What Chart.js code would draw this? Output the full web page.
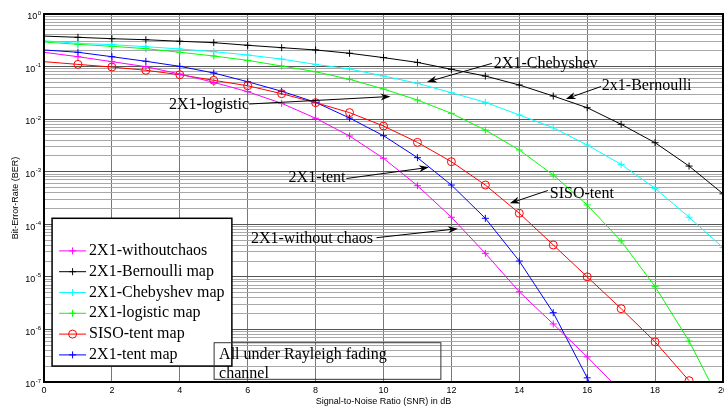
<!DOCTYPE html>
<html><head><meta charset="utf-8">
<script src="https://cdn.jsdelivr.net/npm/chart.js@4/dist/chart.umd.min.js"></script>
<style>html,body{margin:0;padding:0;background:#fff;}#wrap{position:relative;width:724px;height:410px;}</style>
</head><body><div id="wrap"><canvas id="c" width="724" height="410"></canvas></div>
<script>
// ---- data ----
const snr = [0,1,2,3,4,5,6,7,8,9,10,11,12,13,14,15,16,17,18,19,20];
const withoutChaos = [0.187,0.154,0.124,0.0995,0.0722,0.0501,0.0333,0.0200,0.0104,0.00478,0.0018,5.42e-4,1.36e-4,2.8e-5,5.2e-6,1.27e-6,3.0e-7,6.6e-8,null,null,null];
const bernoulli = [0.38,0.36,0.339,0.324,0.303,0.285,0.254,0.229,0.207,0.179,0.148,0.12,0.0887,0.066,0.0446,0.0275,0.0165,0.00797,0.00356,0.00128,3.8e-4];
const chebyshev = [0.310,0.277,0.261,0.239,0.216,0.192,0.166,0.139,0.110,0.090,0.0662,0.048,0.0318,0.0209,0.012,0.00687,0.00322,0.00138,4.83e-4,1.36e-4,3.6e-5];
const logistic = [0.293,0.265,0.243,0.219,0.187,0.159,0.131,0.1025,0.0798,0.0572,0.0374,0.0231,0.0129,0.0062,0.00259,8.65e-4,2.33e-4,4.8e-5,6.5e-6,6.0e-7,3.3e-8];
const sisoTent = [0.124,0.110,0.098,0.085,0.070,0.0547,0.0432,0.0305,0.0206,0.0133,0.0074,0.00362,0.00155,5.58e-4,1.62e-4,4.04e-5,1.0e-5,2.48e-6,5.8e-7,1.06e-7,null];
const tent = [0.207,0.187,0.154,0.126,0.101,0.0755,0.0515,0.0339,0.0209,0.0105,0.00484,0.00185,5.58e-4,1.3e-4,2.0e-5,2.08e-6,1.2e-7,7e-9,null,null,null];
const seriesLabels = ['2X1-withoutchaos','2X1-Bernoulli map','2X1-Chebyshev map','2X1-logistic map','SISO-tent map','2X1-tent map'];
const xTickValues = [0,2,4,6,8,10,12,14,16,18,20];
const yTickExponents = [0,-1,-2,-3,-4,-5,-6,-7];
const xTitle = 'Signal-to-Noise Ratio (SNR) in dB';
const yTitle = 'Bit-Error-Rate (BER)';
const noteTexts = ['2X1-Chebyshev','2x1-Bernoulli','2X1-logistic','2X1-tent','SISO-tent','2X1-without chaos'];
const boxLines = ['All under Rayleigh fading','channel'];

// ---- styles / placement ----
const seriesValues = [withoutChaos, bernoulli, chebyshev, logistic, sisoTent, tent];
const seriesColors = ['#ff00ff','#000000','#00ffff','#00ff00','#ff0000','#0000ff'];
const seriesMarkers = ['cross','cross','cross','cross','circle','cross'];
const notePlacement = [
  {tx:13.25, ty:0.1154, from:[13.19,0.1148], to:[11.28,0.0509]},
  {tx:16.43, ty:0.0427, from:[16.41,0.0418], to:[15.37,0.0242]},
  {tx:3.683, ty:0.01915, from:[6.045,0.0194], to:[10.207,0.0270]},
  {tx:7.204, ty:7.5e-4, from:[8.908,7.43e-4], to:[11.337,1.21e-3]},
  {tx:14.9, ty:3.88e-4, from:[14.84,4.39e-4], to:[13.72,2.51e-4]},
  {tx:6.094, ty:5.41e-5, from:[9.793,5.56e-5], to:[12.193,8.24e-5]}
];
const boxPlacement = {x0:5.011, y0:5.59e-7, x1:11.69, y1:1.125e-7};
const legendPlacement = {x0:0.238, y0:1.30e-4, x1:5.534, y1:2.01e-7};
const SERIF = '16px "Liberation Serif", "Times New Roman", serif';
const SANS = '"Liberation Sans", Arial, sans-serif';

const datasets = seriesLabels.map((lab, k) => ({
  label: lab,
  data: snr.map((x, i) => ({x: x, y: seriesValues[k][i]})),
  borderColor: seriesColors[k],
  backgroundColor: 'rgba(0,0,0,0)',
  borderWidth: 1,
  tension: 0,
  spanGaps: false,
  clip: {left: 0, top: 0, right: 0, bottom: 1},
  pointStyle: seriesMarkers[k],
  pointRadius: snr.map(x => x === 0 ? 0 : (seriesMarkers[k] === 'circle' ? 4 : 3.5)),
  pointHoverRadius: 0,
  pointBorderColor: seriesColors[k],
  pointBackgroundColor: 'rgba(0,0,0,0)',
  pointBorderWidth: 1
}));

function isDecade(v){ const l = Math.log10(v); return Math.abs(l - Math.round(l)) < 1e-9; }

function drawMarker(ctx, style, x, y, color){
  ctx.save(); ctx.strokeStyle = color; ctx.lineWidth = 1; ctx.beginPath();
  if (style === 'circle') { ctx.arc(x, y, 4, 0, Math.PI*2); }
  else { ctx.moveTo(x-3.5, y); ctx.lineTo(x+3.5, y); ctx.moveTo(x, y-3.5); ctx.lineTo(x, y+3.5); }
  ctx.stroke(); ctx.restore();
}
function drawArrow(ctx, x1, y1, x2, y2){
  ctx.save(); ctx.strokeStyle = '#000'; ctx.fillStyle = '#000'; ctx.lineWidth = 1;
  const a = Math.atan2(y2-y1, x2-x1), L = 10, W = 3.5;
  const bx = x2 - L*Math.cos(a), by = y2 - L*Math.sin(a);
  ctx.beginPath(); ctx.moveTo(x1, y1); ctx.lineTo(x2 - 0.7*L*Math.cos(a), y2 - 0.7*L*Math.sin(a)); ctx.stroke();
  ctx.beginPath();
  ctx.moveTo(x2, y2);
  ctx.lineTo(bx + W*Math.sin(a), by - W*Math.cos(a));
  ctx.lineTo(x2 - 0.7*L*Math.cos(a), y2 - 0.7*L*Math.sin(a));
  ctx.lineTo(bx - W*Math.sin(a), by + W*Math.cos(a));
  ctx.closePath(); ctx.fill();
  ctx.restore();
}

const overlay = {
  id: 'overlay',
  afterDraw(chart){
    const ctx = chart.ctx, xs = chart.scales.x, ys = chart.scales.y, ca = chart.chartArea;
    const px = v => xs.getPixelForValue(v), py = v => ys.getPixelForValue(v);
    // axes box
    ctx.save(); ctx.strokeStyle = '#000'; ctx.lineWidth = 2;
    ctx.strokeRect(ca.left, ca.top, ca.right - ca.left, ca.bottom - ca.top);
    ctx.restore();
    // x tick labels
    ctx.save(); ctx.fillStyle = '#000'; ctx.font = '9px ' + SANS; ctx.textAlign = 'center'; ctx.textBaseline = 'middle';
    xTickValues.forEach(v => ctx.fillText(String(v), px(v), ca.bottom + 9));
    ctx.restore();
    // y tick labels 10^e
    ctx.save(); ctx.fillStyle = '#000'; ctx.textAlign = 'right'; ctx.textBaseline = 'alphabetic';
    yTickExponents.forEach(e => {
      const y = py(Math.pow(10, e));
      const es = String(e);
      ctx.font = '6px ' + SANS; const ew = ctx.measureText(es).width;
      ctx.fillText(es, 41, y + 0.5);
      ctx.font = '9px ' + SANS;
      ctx.fillText('10', 41 - ew - 0.3, y + 5.3);
    });
    ctx.restore();
    // annotations
    ctx.save(); ctx.fillStyle = '#000'; ctx.font = SERIF; ctx.textAlign = 'left'; ctx.textBaseline = 'middle';
    noteTexts.forEach((t, i) => {
      const p = notePlacement[i];
      ctx.fillText(t, px(p.tx), py(p.ty));
      drawArrow(ctx, px(p.from[0]), py(p.from[1]), px(p.to[0]), py(p.to[1]));
    });
    ctx.restore();
    // legend
    ctx.save();
    const lx0 = px(legendPlacement.x0), ly0 = py(legendPlacement.y0), lx1 = px(legendPlacement.x1), ly1 = py(legendPlacement.y1);
    ctx.fillStyle = '#fff'; ctx.fillRect(lx0, ly0, lx1 - lx0, ly1 - ly0);
    ctx.strokeStyle = '#000'; ctx.lineWidth = 1.5; ctx.strokeRect(lx0, ly0, lx1 - lx0, ly1 - ly0);
    ctx.font = SERIF; ctx.textAlign = 'left'; ctx.textBaseline = 'middle';
    seriesLabels.forEach((lab, k) => {
      const y = ly0 + 32.6 + k * 20.8;
      ctx.strokeStyle = seriesColors[k]; ctx.lineWidth = 1;
      ctx.beginPath(); ctx.moveTo(lx0 + 7, y); ctx.lineTo(lx0 + 34, y); ctx.stroke();
      drawMarker(ctx, seriesMarkers[k], lx0 + 20.5, y, seriesColors[k]);
      ctx.fillStyle = '#000'; ctx.fillText(lab, lx0 + 37, y);
    });
    ctx.restore();
    // Rayleigh box (transparent, drawn over the legend edge)
    ctx.save();
    const bx0 = px(boxPlacement.x0), by0 = py(boxPlacement.y0), bx1 = px(boxPlacement.x1), by1 = py(boxPlacement.y1);
    ctx.strokeStyle = '#333'; ctx.lineWidth = 1; ctx.strokeRect(bx0, by0, bx1 - bx0, by1 - by0);
    ctx.fillStyle = '#000'; ctx.font = SERIF; ctx.textAlign = 'left'; ctx.textBaseline = 'middle';
    ctx.fillText(boxLines[0], bx0 + 5, by0 + 12.5);
    ctx.fillText(boxLines[1], bx0 + 5, by0 + 31);
    ctx.restore();
  }
};

new Chart(document.getElementById('c'), {
  type: 'line',
  data: {datasets: datasets},
  options: {
    responsive: false, animation: false, devicePixelRatio: 1,
    layout: {autoPadding: false, padding: {top: 14, right: 1, bottom: 0, left: 0}},
    plugins: {legend: {display: false}, tooltip: {enabled: false}},
    events: [],
    scales: {
      x: {
        type: 'linear', min: 0, max: 20,
        afterBuildTicks(s){ s.ticks = xTickValues.map(v => ({value: v})); },
        ticks: {display: false},
        grid: {color: '#777', lineWidth: 1, drawTicks: false},
        border: {display: false},
        title: {display: true, text: xTitle, color: '#000', font: {family: SANS, size: 9}, padding: {top: 0, bottom: 3}},
        afterFit(s){ s.height = 28; s.paddingLeft = 0; s.paddingRight = 0; }
      },
      y: {
        type: 'logarithmic', min: 1e-7, max: 1,
        afterBuildTicks(s){
          const t = [];
          for (let e = -7; e < 0; e++) for (let m = 1; m < 10; m++) t.push({value: m * Math.pow(10, e)});
          t.push({value: 1}); s.ticks = t;
        },
        ticks: {display: false},
        grid: {color: c => (c.tick && isDecade(c.tick.value)) ? '#555' : '#a8a8a8', lineWidth: 1, drawTicks: false},
        border: {display: false},
        title: {display: true, text: yTitle, color: '#000', font: {family: SANS, size: 9}, padding: {top: 10, bottom: 0}},
        afterFit(s){ s.width = 44; s.paddingTop = 0; s.paddingBottom = 0; }
      }
    }
  },
  plugins: [overlay]
});
</script>
</body></html>
